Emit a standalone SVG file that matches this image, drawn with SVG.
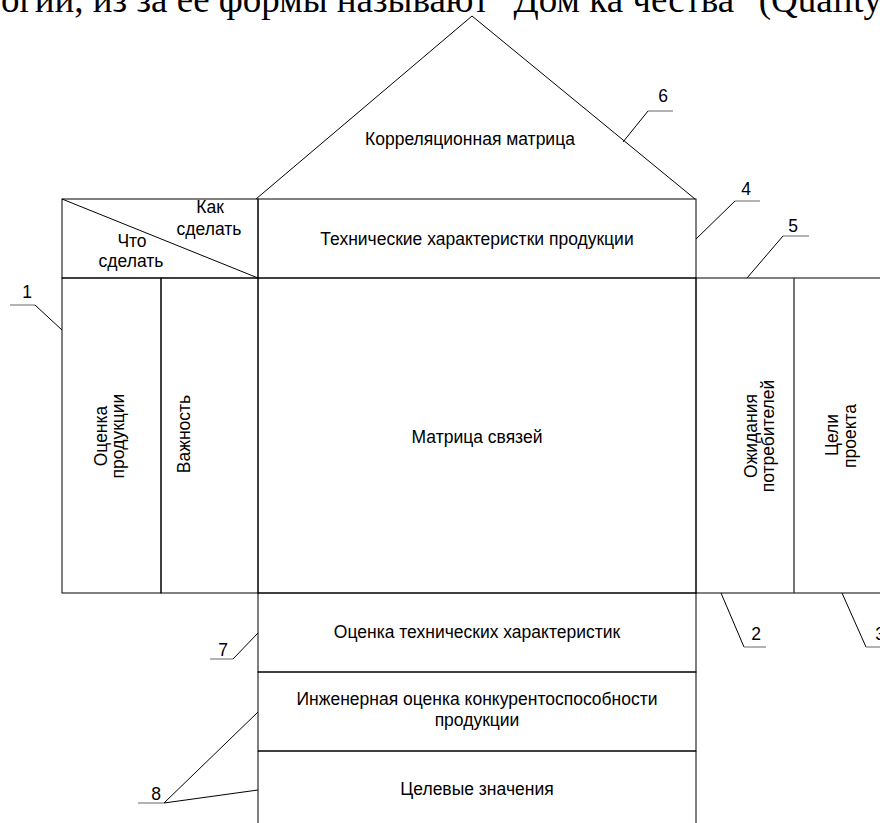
<svg xmlns="http://www.w3.org/2000/svg" width="880" height="823" viewBox="0 0 880 823">
<style>
.ln{stroke:#000;stroke-width:1;fill:none}
.gl{stroke:#666;stroke-width:1;fill:none}
.t{font-family:"Liberation Sans",Arial,sans-serif;font-size:17.5px;fill:#000;text-anchor:middle}
.n{font-family:"Liberation Sans",Arial,sans-serif;font-size:17.5px;fill:#000;text-anchor:middle}
.top{font-family:"Liberation Serif","Times New Roman",serif;font-size:37px;fill:#000}
</style>
<rect width="880" height="823" fill="#fff"/>
<text class="top" x="1" y="12">огии, из за ее формы называют "Дом ка чества" (Quality</text>

<g id="roof">
<polyline class="ln" points="256,199 472,16 695,199"/>
<text class="t" x="470" y="145">Корреляционная матрица</text>
</g>
<g id="corner">
<rect class="ln" x="62" y="199" width="196" height="79"/>
<line class="ln" x1="62" y1="199" x2="258" y2="278"/>
<text class="t" x="210" y="213">Как</text>
<text class="t" x="209" y="235">сделать</text>
<text class="t" x="132" y="247">Что</text>
<text class="t" x="131" y="267">сделать</text>
</g>
<g id="tech">
<rect class="ln" x="258" y="199" width="438" height="79"/>
<text class="t" x="477" y="245">Технические характеристки продукции</text>
</g>
<g id="eval-prod">
<rect class="ln" x="62" y="278" width="99" height="315"/>
<text class="t" transform="translate(107,436) rotate(-90)" x="0" y="0">Оценка</text>
<text class="t" transform="translate(124,436) rotate(-90)" x="0" y="0">продукции</text>
</g>
<g id="importance">
<rect class="ln" x="161" y="278" width="97" height="315"/>
<text class="t" transform="translate(190,434) rotate(-90)" x="0" y="0">Важность</text>
</g>
<g id="matrix">
<rect class="ln" x="258" y="278" width="438" height="315"/>
<text class="t" x="477" y="443">Матрица связей</text>
</g>
<g id="expect">
<rect class="ln" x="696" y="278" width="98" height="315"/>
<text class="t" transform="translate(757,436) rotate(-90)" x="0" y="0">Ожидания</text>
<text class="t" transform="translate(774,436) rotate(-90)" x="0" y="0">потребителей</text>
</g>
<g id="goals">
<path class="ln" d="M794,278 H881 M794,593 H881"/>
<line class="gl" x1="794" y1="278" x2="794" y2="593"/>
<text class="t" transform="translate(838,435) rotate(-90)" x="0" y="0">Цели</text>
<text class="t" transform="translate(856,436) rotate(-90)" x="0" y="0">проекта</text>
</g>
<g id="tech-eval">
<rect class="ln" x="258" y="593" width="438" height="79"/>
<text class="t" x="477" y="638">Оценка технических характеристик</text>
</g>
<g id="eng-eval">
<rect class="ln" x="258" y="672" width="438" height="79"/>
<text class="t" x="477" y="705">Инженерная оценка конкурентоспособности</text>
<text class="t" x="477" y="726">продукции</text>
</g>
<g id="targets">
<path class="ln" d="M258,751 H696 M258,751 V824 M696,751 V824"/>
<text class="t" x="477" y="795">Целевые значения</text>
</g>

<g id="connectors">
<polyline class="ln" points="62,330 35,305"/><line class="gl" x1="10" y1="305" x2="35" y2="305"/>
<polyline class="ln" points="721,593 744,647"/><line class="gl" x1="744" y1="647" x2="766" y2="647"/>
<polyline class="ln" points="842,593 866,647"/><line class="gl" x1="866" y1="647" x2="881" y2="647"/>
<polyline class="ln" points="696,239 735,201"/><line class="gl" x1="735" y1="201" x2="760" y2="201"/>
<polyline class="ln" points="747,278 783,236"/><line class="gl" x1="783" y1="236" x2="809" y2="236"/>
<polyline class="ln" points="623,142 648,111"/><line class="gl" x1="648" y1="111" x2="673" y2="111"/>
<polyline class="ln" points="258,633 233,659"/><line class="gl" x1="210" y1="659" x2="233" y2="659"/>
<polyline class="ln" points="258,712 164,803 258,790"/><line class="gl" x1="138" y1="803" x2="164" y2="803"/>
</g>
<g id="labels">
<text class="n" x="27" y="298">1</text>
<text class="n" x="756" y="640">2</text>
<text class="n" x="880" y="640">3</text>
<text class="n" x="746" y="195">4</text>
<text class="n" x="793" y="232">5</text>
<text class="n" x="663" y="102">6</text>
<text class="n" x="223" y="656">7</text>
<text class="n" x="156" y="800">8</text>
</g>
</svg>
